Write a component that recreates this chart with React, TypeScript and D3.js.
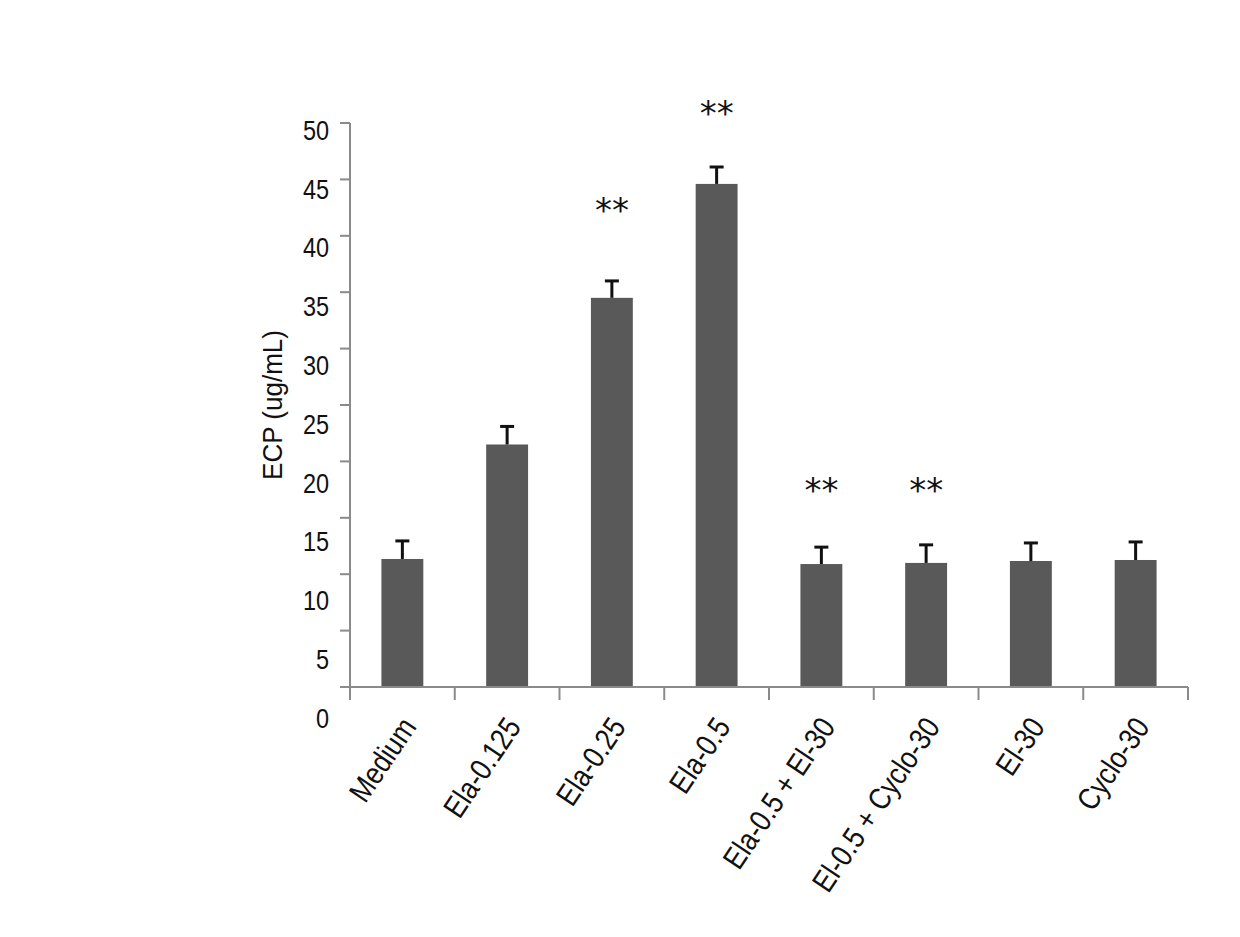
import React from "react";
import * as d3 from "d3";

const categories = [
  "Medium",
  "Ela-0.125",
  "Ela-0.25",
  "Ela-0.5",
  "Ela-0.5 + El-30",
  "El-0.5 + Cyclo-30",
  "El-30",
  "Cyclo-30",
];
const means = [11.35, 21.5, 34.5, 44.6, 10.9, 11.0, 11.17, 11.26];
const errors = [1.6, 1.6, 1.5, 1.5, 1.5, 1.6, 1.6, 1.6];
const significance = ["", "", "**", "**", "**", "**", "", ""];
const significanceY = [0, 0, 42.6, 51.2, 17.8, 17.8, 0, 0];
const yTicks = [0, 5, 10, 15, 20, 25, 30, 35, 40, 45, 50];
const yTitle = "ECP (ug/mL)";

const W = 1240;
const H = 937;
const left = 350;
const right = 1188;
const top = 123;
const bottom = 687;

export default function App() {
  const x = d3.scaleBand<string>().domain(categories).range([left, right]).paddingInner(0).paddingOuter(0);
  const y = d3.scaleLinear().domain([0, 50]).range([bottom, top]);
  // tick labels in the reference are spread slightly more than the ticks
  const yLab = d3.scaleLinear().domain([0, 50]).range([718, 130]);
  const bw = x.bandwidth();
  const barW = bw * 0.4;
  const axisColor = "#8a8a8a";
  const font = "'Liberation Sans', Arial, sans-serif";

  return (
    <svg width={W} height={H} style={{ display: "block", position: "absolute", left: 0, top: 0 }}>
      <rect width={W} height={H} fill="#ffffff" />
      {/* bars */}
      {categories.map((c, i) => {
        const cx = x(c)! + bw / 2;
        return (
          <g key={c}>
            <rect x={cx - barW / 2} y={y(means[i])} width={barW} height={y(0) - y(means[i])} fill="#595959" />
            <line x1={cx} x2={cx} y1={y(means[i])} y2={y(means[i] + errors[i])} stroke="#111" strokeWidth={3} />
            <line x1={cx - 7} x2={cx + 7} y1={y(means[i] + errors[i])} y2={y(means[i] + errors[i])} stroke="#111" strokeWidth={3} />
            {significance[i] && (
              <text
                x={cx}
                y={y(significanceY[i]) + 16}
                textAnchor="middle"
                fontFamily="'DejaVu Sans', sans-serif"
                fontSize={34}
                fill="#111"
              >
                {significance[i]}
              </text>
            )}
          </g>
        );
      })}
      {/* y axis */}
      <line x1={left} x2={left} y1={top} y2={700} stroke={axisColor} strokeWidth={2} />
      {yTicks.map((t) => (
        <g key={t}>
          <line x1={340} x2={left} y1={y(t)} y2={y(t)} stroke={axisColor} strokeWidth={2} />
          <text
            transform={`translate(329, ${yLab(t)}) scale(0.87, 1)`}
            dy="0.36em"
            textAnchor="end"
            fontFamily={font}
            fontSize={27}
            fill="#111"
          >
            {t}
          </text>
        </g>
      ))}
      {/* x axis */}
      <line x1={340} x2={right} y1={bottom} y2={bottom} stroke={axisColor} strokeWidth={2} />
      {categories.map((c) => (
        <line key={"t" + c} x1={x(c)!} x2={x(c)!} y1={bottom} y2={700} stroke={axisColor} strokeWidth={2} />
      ))}
      <line x1={right} x2={right} y1={bottom} y2={700} stroke={axisColor} strokeWidth={2} />
      {categories.map((c) => {
        const cx = x(c)! + bw / 2 + 15;
        const cy = 727;
        return (
          <text
            key={"l" + c}
            transform={`translate(${cx}, ${cy}) rotate(-56) scale(0.92, 1.08)`}
            textAnchor="end"
            fontFamily={font}
            fontSize={28.5}
            fill="#111"
          >
            {c}
          </text>
        );
      })}
      {/* y title */}
      <text
        transform="translate(282, 405) rotate(-90) scale(0.93, 1)"
        textAnchor="middle"
        fontFamily={font}
        fontSize={28}
        fill="#111"
      >
        {yTitle}
      </text>
    </svg>
  );
}
